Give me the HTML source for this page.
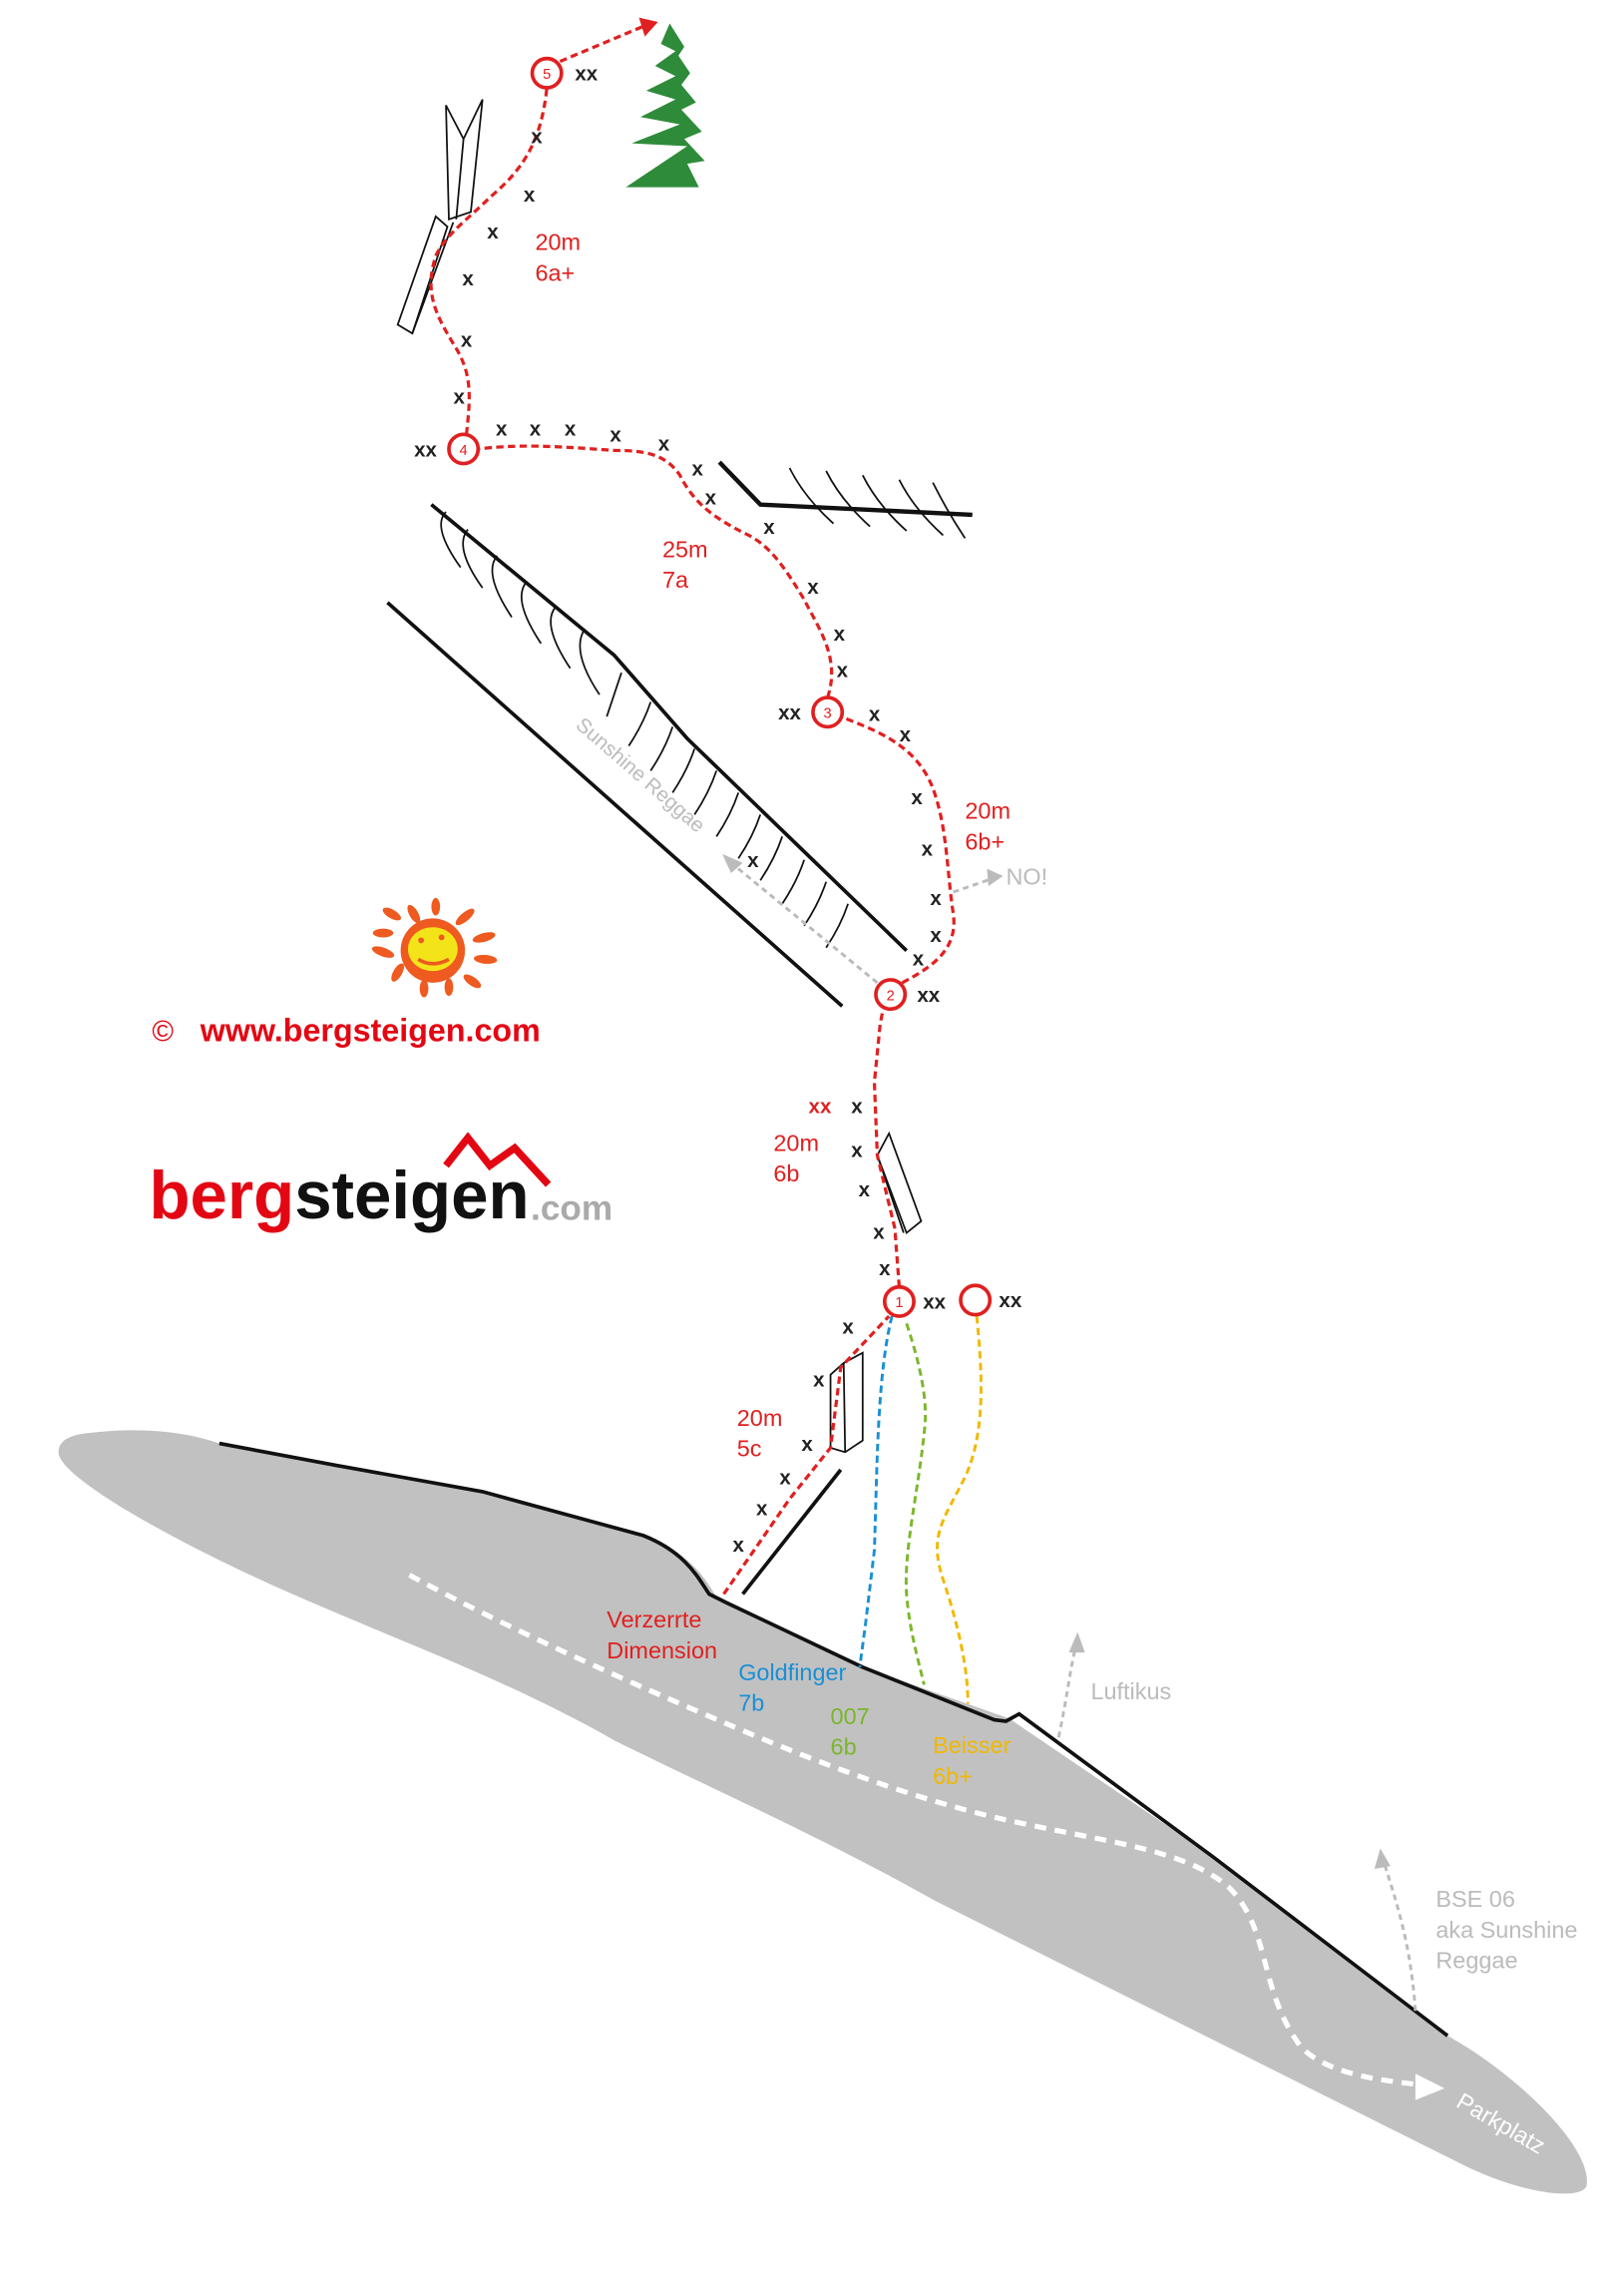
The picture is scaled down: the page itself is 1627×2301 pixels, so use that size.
<!DOCTYPE html>
<html><head><meta charset="utf-8"><style>
html,body{margin:0;padding:0;background:#fff;}
svg{display:block;}
text{font-family:"Liberation Sans",sans-serif;}
</style></head><body>
<svg width="1627" height="2301" viewBox="0 0 1110 1570" preserveAspectRatio="none" xmlns="http://www.w3.org/2000/svg">
<!-- ground -->
<path d="M60,980 C100,975 130,980 150,987 L230,1002 L330,1020 L440,1050 C470,1062 480,1075 490,1092 L590,1140 L690,1175 L830,1270 L990,1392 C1040,1420 1090,1470 1085,1495 C1080,1505 1040,1500 1000,1480 C960,1460 900,1430 830,1395 L640,1300 C560,1255 480,1220 420,1190 C350,1150 280,1125 200,1090 C120,1055 40,1010 40,993 C40,984 50,981 60,980 Z" fill="#c1c1c1"/>
<path d="M150,987 L230,1002 L330,1020 L440,1050 C470,1062 478,1080 485,1090 L497,1096 L590,1140 L680,1176 L688,1177 L697,1172 L830,1270 L990,1392" fill="none" stroke="#111" stroke-width="2.5"/>
<!-- road -->
<path d="M280,1077 C350,1115 430,1150 500,1180 C570,1210 640,1235 700,1247 C760,1260 810,1265 840,1290 C870,1320 860,1360 890,1400 C910,1420 950,1423 975,1426" fill="none" stroke="#fff" stroke-width="3.5" stroke-dasharray="8,6"/>
<polygon points="968,1418 988,1428 968,1436" fill="#fff"/>
<text x="995" y="1440" fill="#fff" font-size="16" transform="rotate(30 995 1440)">Parkplatz</text>

<!-- hatched lines -->
<g fill="none" stroke="#111">
<line x1="265" y1="412" x2="576" y2="688" stroke-width="2.5"/>
<path d="M295,345 L420,448 L470,505 L620,650" stroke-width="2.5"/>
<path d="M492,316 L520,345 L665,352" stroke-width="3"/>
<g stroke-width="1.2">
<path d="M305,350 q-10,10 10,38"/><path d="M320,362 q-10,12 10,40"/><path d="M340,380 q-10,12 10,42"/><path d="M360,398 q-10,12 10,42"/><path d="M380,415 q-10,12 10,42"/><path d="M400,430 q-10,15 10,45"/>
<path d="M425,460 q-5,15 -10,30"/><path d="M445,480 q-5,15 -15,30"/><path d="M460,497 q-5,15 -15,30"/><path d="M475,512 q-5,15 -15,30"/><path d="M490,527 q-5,15 -15,30"/><path d="M505,542 q-5,15 -15,30"/><path d="M520,557 q-5,15 -15,30"/><path d="M535,572 q-5,15 -15,30"/><path d="M550,588 q-5,15 -15,30"/><path d="M565,603 q-5,15 -15,30"/><path d="M580,618 q-5,15 -15,30"/>
<path d="M540,320 q10,20 30,38"/><path d="M565,322 q10,20 30,38"/><path d="M590,325 q10,20 30,38"/><path d="M615,328 q10,20 30,38"/><path d="M638,330 q10,20 22,38"/>
</g>
<!-- pillars -->
<g stroke-width="1.2" fill="#fff">
<path d="M305,72 L317,95 L330,68 L322,145 L307,150 Z"/><line x1="317" y1="95" x2="312" y2="150"/>
<path d="M298,148 L272,222 L282,228 L306,155 Z"/><line x1="282" y1="228" x2="310" y2="152"/>
<path d="M608,775 L630,835 L620,843 L600,790 Z"/><line x1="600" y1="790" x2="618" y2="843"/>
<path d="M568,940 L577,932 L590,925 L590,985 L578,993 L568,990 Z"/><line x1="577" y1="932" x2="578" y2="993"/>
<line x1="508" y1="1090" x2="575" y2="1005" stroke-width="2.5"/>
</g>
</g>

<!-- other routes -->
<g fill="none" stroke-width="2" stroke-dasharray="5,3">
<path d="M610,900 C600,940 600,1000 598,1060 L592,1110 L588,1140" stroke="#1a8fd6"/>
<path d="M620,905 C630,935 635,960 632,980 C628,1020 618,1060 620,1090 C622,1115 628,1135 632,1152" stroke="#7ab72b"/>
<path d="M668,900 C672,940 674,980 660,1010 C645,1040 635,1050 645,1080 C655,1110 662,1140 662,1165" stroke="#f1b800"/>
</g>
<!-- gray arrows -->
<g fill="none" stroke="#bbb" stroke-width="2" stroke-dasharray="4,3">
<line x1="600" y1="672" x2="500" y2="590"/>
<path d="M652,610 L678,601"/>
<path d="M724,1188 C730,1160 732,1140 736,1125"/>
<path d="M968,1375 C965,1330 955,1300 946,1272"/>
</g>
<g fill="#bbb">
<polygon points="494,584 508,590 500,597"/>
<polygon points="686,599 675,594 676,606"/>
<polygon points="737,1116 731,1130 742,1130"/>
<polygon points="944,1264 940,1278 951,1276"/>
</g>
<text x="0" y="0" fill="#bbb" font-size="14" transform="translate(393,497) rotate(41)">Sunshine Reggae</text>

<!-- main red route -->
<g fill="none" stroke="#e02020" stroke-width="2.2" stroke-dasharray="5,3">
<path d="M495,1090 L540,1025 L568,990 L575,935 L608,900"/>
<path d="M615,880 L612,840 L600,790 L598,740 L602,700 L604,690"/>
<path d="M617,672 C640,660 655,648 652,625 C648,600 648,570 640,545 C630,510 600,500 575,490"/>
<path d="M566,477 C575,450 560,430 550,410 C535,385 525,372 510,365 C490,355 475,345 465,325 C455,310 440,308 420,308 C390,306 360,303 327,307"/>
<path d="M319,297 C322,270 323,255 310,235 C298,215 290,200 298,175 C305,160 320,150 335,135 C355,118 370,100 374,60"/>
<path d="M383,42 L440,18"/>
</g>
<polygon points="450,15 437,12 441,25" fill="#e02020"/>
<!-- belays -->
<g fill="#fff" stroke="#e02020" stroke-width="2.5">
<circle cx="374" cy="50" r="10"/><circle cx="317" cy="307" r="10"/><circle cx="566" cy="487" r="10"/><circle cx="609" cy="680" r="10"/><circle cx="615" cy="890" r="10"/><circle cx="667" cy="889" r="10"/>
</g>
<g fill="#e02020" font-size="10" text-anchor="middle">
<text x="374" y="54">5</text><text x="317" y="311">4</text><text x="566" y="491">3</text><text x="609" y="684">2</text><text x="615" y="894">1</text>
</g>
<!-- bolts -->
<g fill="#222" font-size="14" font-weight="bold" text-anchor="middle">
<text x="401" y="55">xx</text><text x="291" y="312">xx</text><text x="540" y="492">xx</text><text x="635" y="685">xx</text><text x="639" y="895">xx</text><text x="691" y="894">xx</text>
<text x="367" y="98">x</text><text x="362" y="138">x</text><text x="337" y="163">x</text><text x="320" y="195">x</text><text x="319" y="237">x</text><text x="314" y="276">x</text>
<text x="343" y="298">x</text><text x="366" y="298">x</text><text x="390" y="298">x</text><text x="421" y="302">x</text><text x="454" y="308">x</text><text x="477" y="325">x</text><text x="486" y="345">x</text><text x="526" y="365">x</text><text x="556" y="406">x</text><text x="574" y="438">x</text><text x="576" y="463">x</text>
<text x="598" y="493">x</text><text x="619" y="507">x</text><text x="627" y="550">x</text><text x="634" y="585">x</text><text x="640" y="619">x</text><text x="640" y="644">x</text><text x="628" y="660">x</text><text x="515" y="593">x</text>
<text x="586" y="761">x</text><text x="586" y="791">x</text><text x="591" y="818">x</text><text x="601" y="847">x</text><text x="605" y="872">x</text>
<text x="580" y="912">x</text><text x="560" y="948">x</text><text x="552" y="992">x</text><text x="537" y="1015">x</text><text x="521" y="1036">x</text><text x="505" y="1061">x</text>
</g>
<text x="553" y="761" fill="#e02020" font-size="14" font-weight="bold">xx</text>
<!-- labels -->
<g font-size="16">
<g fill="#e02020">
<text x="366" y="171">20m</text><text x="366" y="192">6a+</text>
<text x="453" y="381">25m</text><text x="453" y="402">7a</text>
<text x="660" y="560">20m</text><text x="660" y="581">6b+</text>
<text x="529" y="787">20m</text><text x="529" y="808">6b</text>
<text x="504" y="975">20m</text><text x="504" y="996">5c</text>
<text x="415" y="1113">Verzerrte</text><text x="415" y="1134">Dimension</text>
</g>
<text x="688" y="605" fill="#bbb">NO!</text>
<text x="505" y="1149" fill="#1a8fd6">Goldfinger</text><text x="505" y="1170" fill="#1a8fd6">7b</text>
<text x="568" y="1179" fill="#7ab72b">007</text><text x="568" y="1200" fill="#7ab72b">6b</text>
<text x="638" y="1199" fill="#f1b800">Beisser</text><text x="638" y="1220" fill="#f1b800">6b+</text>
<text x="746" y="1162" fill="#bbb">Luftikus</text>
<text x="982" y="1304" fill="#bbb">BSE 06</text><text x="982" y="1325" fill="#bbb">aka Sunshine</text><text x="982" y="1346" fill="#bbb">Reggae</text>
</g>
<!-- tree -->
<path d="M458,16 L452,30 L462,35 L448,45 L462,52 L442,62 L462,68 L438,80 L465,85 L432,98 L470,100 L428,128 L478,128 L470,112 L482,110 L468,95 L480,90 L466,75 L476,70 L466,58 L472,50 L464,38 L468,32 Z" fill="#2e8b3a"/>
<!-- sun -->
<g>
<circle cx="296" cy="650" r="22" fill="#ee5a1f"/><ellipse cx="296" cy="649" rx="17" ry="15" fill="#f3e41a"/>
<circle cx="288" cy="643" r="2" fill="#ee5a1f"/><circle cx="302" cy="641" r="2" fill="#ee5a1f"/>
<path d="M286,656 Q296,662 307,656" stroke="#ee5a1f" stroke-width="2.5" fill="none"/>
<g fill="#ee5a1f">
<ellipse cx="283" cy="625" rx="3" ry="7" transform="rotate(-30 283 625)"/><ellipse cx="298" cy="620" rx="3" ry="6"/><ellipse cx="318" cy="627" rx="3" ry="8" transform="rotate(50 318 627)"/>
<ellipse cx="331" cy="641" rx="3" ry="8" transform="rotate(75 331 641)"/><ellipse cx="332" cy="656" rx="3" ry="8" transform="rotate(95 332 656)"/><ellipse cx="323" cy="671" rx="3" ry="7" transform="rotate(125 323 671)"/>
<ellipse cx="307" cy="675" rx="3" ry="6"/><ellipse cx="290" cy="676" rx="3" ry="6"/><ellipse cx="272" cy="665" rx="3" ry="7" transform="rotate(30 272 665)"/>
<ellipse cx="262" cy="651" rx="3" ry="8" transform="rotate(-70 262 651)"/><ellipse cx="262" cy="638" rx="3" ry="7" transform="rotate(-90 262 638)"/><ellipse cx="268" cy="625" rx="3" ry="7" transform="rotate(-60 268 625)"/>
</g>
</g>
<text x="104" y="712" fill="#e30613" font-size="20">©</text>
<text x="137" y="712" fill="#e30613" font-size="22" font-weight="bold">www.bergsteigen.com</text>
<!-- logo -->
<path d="M305,797 L320,778 L335,797 L352,785 L375,810" stroke="#e30613" stroke-width="5" fill="none" stroke-linejoin="miter"/>
<text x="102" y="833" font-size="46" font-weight="bold" textLength="260" lengthAdjust="spacingAndGlyphs"><tspan fill="#e30613">berg</tspan><tspan fill="#111">steigen</tspan></text>
<text x="363" y="834" fill="#aaa" font-size="24" font-weight="bold">.com</text>
</svg>
</body></html>
